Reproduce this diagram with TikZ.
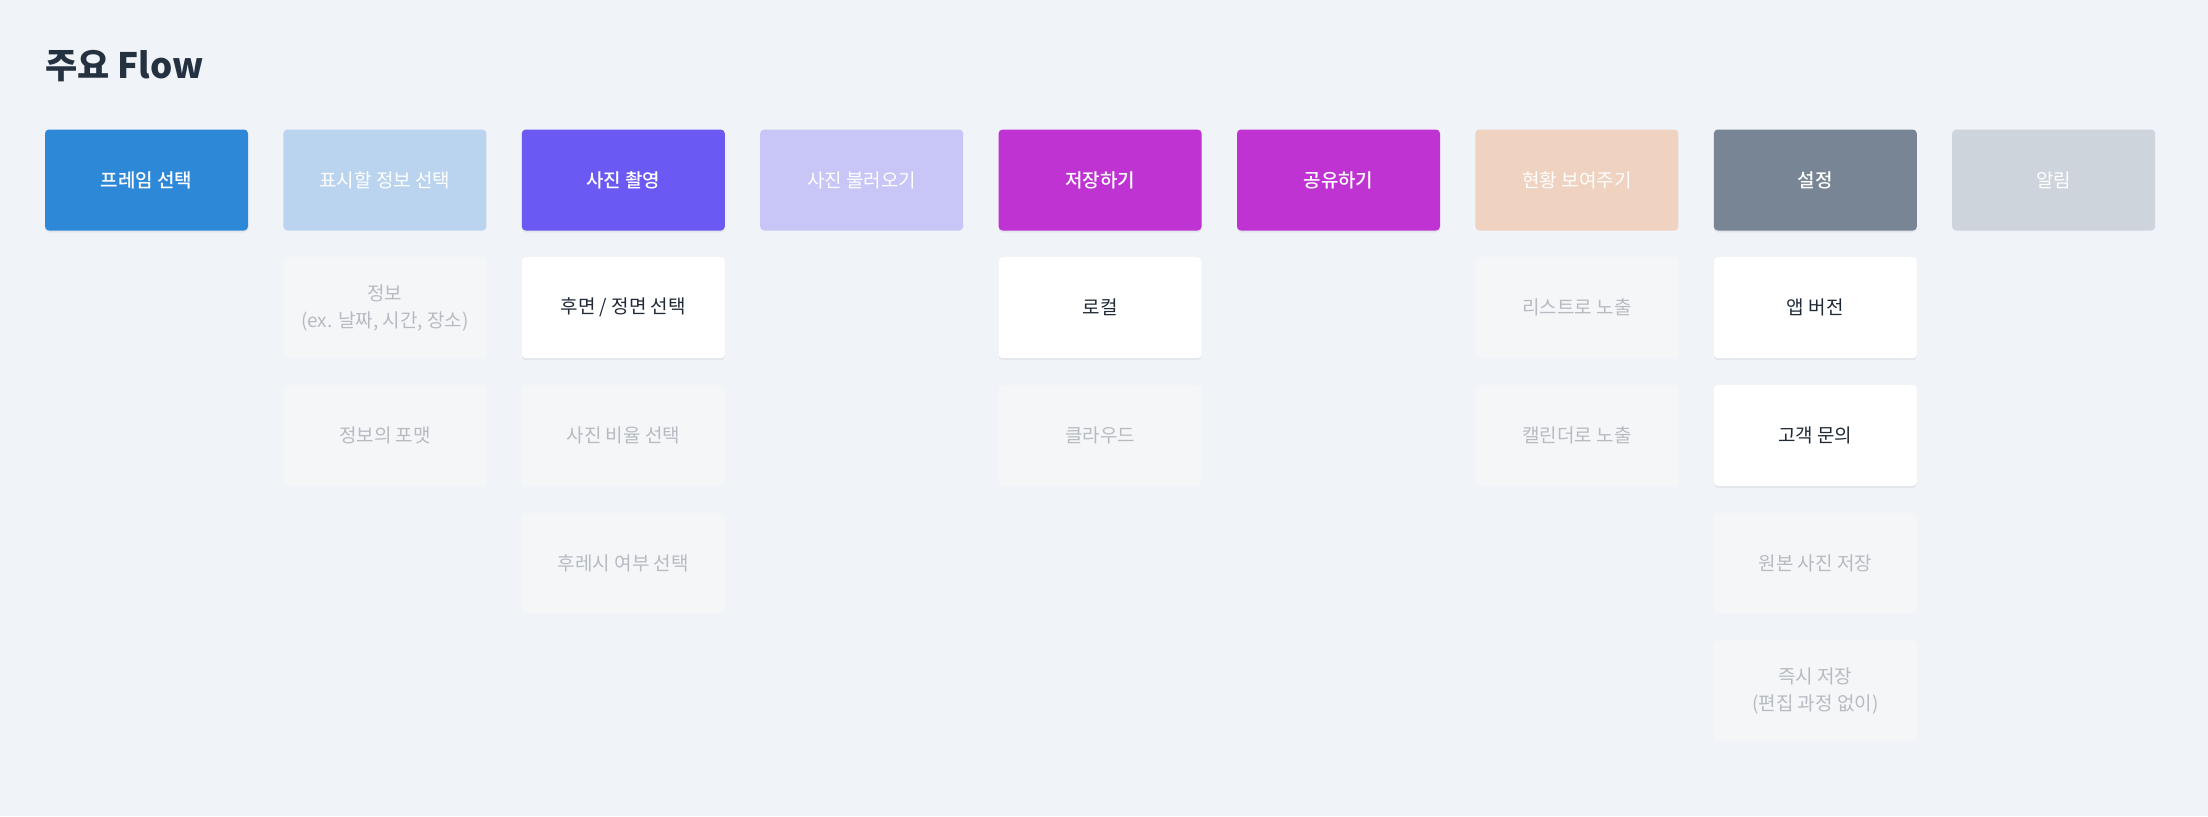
\documentclass[tikz,border=0pt]{standalone}
\usepackage{fontspec}
\setmainfont{Noto Sans CJK KR}
\newfontfamily\medfont{Noto Sans CJK KR Medium}
\usetikzlibrary{shadows}
\definecolor{bgcolor}{HTML}{F0F3F7}
\definecolor{titlecolor}{HTML}{243140}
\definecolor{darktext}{HTML}{1F2A36}
\definecolor{dimtext}{HTML}{B6BBC2}
\definecolor{dimfill}{HTML}{F5F6F8}
\definecolor{cframe}{HTML}{2E88D8}
\definecolor{cinfo}{HTML}{BAD4EF}
\definecolor{cshoot}{HTML}{6A59F2}
\definecolor{cload}{HTML}{C7C6F7}
\definecolor{csave}{HTML}{BF33D3}
\definecolor{cstatus}{HTML}{EFD2C0}
\definecolor{csetting}{HTML}{778594}
\definecolor{calarm}{HTML}{CED4DC}
\begin{document}
\begin{tikzpicture}
[x=0.5pt,y=-0.5pt,
  boxdecorate/.style={shape=rectangle,rounded corners=2pt,inner sep=0pt,
    minimum width=101.5pt,minimum height=50.5pt,align=center,
    font=\fontsize{9.5}{13.5}\selectfont},%
  headdecorate/.style={boxdecorate,text=white,font=\fontsize{9.5}{13.5}\medfont},%
  liftdecorate/.style={drop shadow={shadow xshift=0pt,shadow yshift=-1pt,
    opacity=0.05,fill=black}},%
  itemdecorate/.style={boxdecorate,fill=white,text=darktext,liftdecorate},%
  dimdecorate/.style={boxdecorate,fill=dimfill,text=dimtext}]
\fill[bgcolor] (0,0) rectangle (2208,816);
\useasboundingbox (0,0) rectangle (2208,816);
%% title
\node (title) at (45,66) [anchor=west,inner sep=0pt,text=titlecolor,
  font=\fontsize{17.5}{20}\bfseries] {주요 Flow};
%% head boxes
\foreach \nodename/\x/\colour/\lift/\name in {frame/0/cframe/liftdecorate/프레임 선택,
  info/1/cinfo/boxdecorate/표시할 정보 선택, shoot/2/cshoot/liftdecorate/사진 촬영,
  load/3/cload/boxdecorate/사진 불러오기, save/4/csave/liftdecorate/저장하기,
  share/5/csave/liftdecorate/공유하기, status/6/cstatus/boxdecorate/현황 보여주기,
  setting/7/csetting/liftdecorate/설정, alarm/8/calarm/boxdecorate/알림} {
  \node (\nodename) at (146.5+238.4*\x,180) [headdecorate,\lift,fill=\colour] {\name};
}
%% sub boxes
\foreach \nodename/\x/\y/\kind/\name in {infoa/1/1/dimdecorate/{정보\\(ex. 날짜, 시간, 장소)},
  infob/1/2/dimdecorate/정보의 포맷, shoota/2/1/itemdecorate/{후면 / 정면 선택},
  shootb/2/2/dimdecorate/사진 비율 선택, shootc/2/3/dimdecorate/후레시 여부 선택,
  savea/4/1/itemdecorate/로컬, saveb/4/2/dimdecorate/클라우드,
  statusa/6/1/dimdecorate/리스트로 노출, statusb/6/2/dimdecorate/캘린더로 노출,
  settinga/7/1/itemdecorate/앱 버전, settingb/7/2/itemdecorate/고객 문의,
  settingc/7/3/dimdecorate/원본 사진 저장,
  settingd/7/4/dimdecorate/{즉시 저장\\(편집 과정 없이)}} {
  \node (\nodename) at (146.5+238.4*\x,180+127.7*\y) [\kind] {\name};
}
\end{tikzpicture}
\end{document}
